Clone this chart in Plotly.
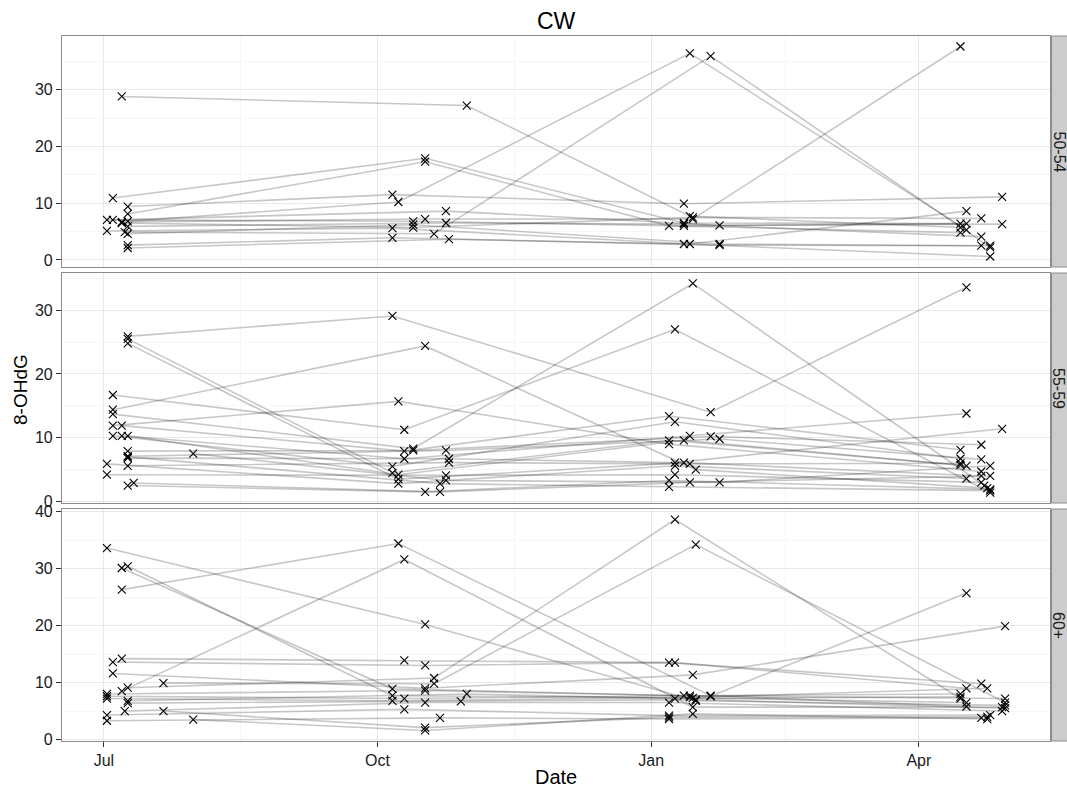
import pandas as pd
import plotly.graph_objects as go
from plotly.subplots import make_subplots

# ---------------- data ----------------
GROUPS = ["50-54", "55-59", "60+"]
VISIT_MONTHS = ["2012-07", "2012-10", "2013-01", "2013-04"]
TICK_DATES = ["2012-07-01", "2012-10-01", "2013-01-01", "2013-04-01"]
TICK_LABELS = ["Jul", "Oct", "Jan", "Apr"]

# 50-54: day of month of each visit and 8-OHdG value, one entry per subject
G1_JUL_DAY = [7, 4, 9, 9, 9, 8, 7, 2, 4, 2, 7, 9, 9, 9, 9]
G1_JUL_VAL = [28.8, 10.9, 9.4, 8.1, 6.8, 4.9, 6.7, 7.05, 7.05, 5.1, 6.5, 4.6, 2.6, 2.1, 5.9]
G1_OCT_DAY = [31, 17, 6, 17, 8, 20, 17, 13, 24, 6, 13, 13, 6, 25, 24]
G1_OCT_VAL = [27.2, 17.9, 11.5, 17.3, 10.2, 4.6, 7.2, 6.8, 8.6, 5.6, 5.7, 6.2, 3.9, 3.65, 6.5]
G1_JAN_DAY = [14, 12, 12, 7, 14, 21, 15, 12, 24, 14, 15, 24, 12, 24, 12]
G1_JAN_VAL = [7.7, 6.5, 9.9, 6.0, 36.4, 35.9, 7.2, 6.0, 6.1, 2.8, 7.5, 2.8, 2.8, 2.6, 6.3]
G1_APR_DAY = [15, 15, 29, 15, 17, 25, 15, 17, 29, 17, 22, 25, 25, 22, 22]
G1_APR_VAL = [5.7, 6.4, 11.1, 4.8, 5.3, 2.2, 37.6, 6.4, 6.3, 8.6, 7.3, 2.5, 0.6, 2.5, 4.1]

# 55-59
G2_JUL_DAY = [9, 9, 9, 4, 4, 4, 4, 7, 4, 7, 9, 9, 9, 9, 9, 2, 2, 9, 11, 31, 9]
G2_JUL_VAL = [25.9, 25.5, 24.8, 14.4, 16.7, 13.7, 11.9, 11.9, 10.3, 10.3, 10.3, 7.9, 7.1, 6.8, 5.6, 5.9, 4.2, 2.5, 2.9, 7.5, 7.0]
G2_OCT_DAY = [6, 6, 8, 17, 10, 13, 8, 10, 6, 10, 8, 13, 24, 25, 25, 8, 24, 17, 22, 24, 22]
G2_OCT_VAL = [29.1, 4.5, 3.5, 24.4, 11.25, 8.3, 15.7, 7.9, 5.5, 6.7, 4.2, 8.0, 8.0, 6.7, 6.1, 2.8, 4.1, 1.5, 1.5, 3.3, 2.8]
G2_JAN_DAY = [21, 7, 12, 16, 9, 15, 7, 7, 9, 14, 12, 21, 24, 9, 14, 9, 9, 7, 14, 24, 7]
G2_JAN_VAL = [14.0, 9.6, 6.1, 5.0, 27.0, 34.2, 9.0, 13.4, 12.5, 10.3, 9.6, 10.2, 9.8, 6.1, 5.9, 5.6, 4.2, 3.3, 3.0, 3.0, 2.3]
G2_APR_DAY = [17, 15, 22, 24, 25, 23, 22, 15, 15, 17, 17, 22, 22, 29, 15, 17, 22, 25, 25, 25, 25]
G2_APR_VAL = [33.6, 5.7, 4.0, 2.1, 1.4, 2.5, 4.7, 8.1, 6.7, 13.8, 5.6, 8.9, 6.6, 11.4, 6.0, 3.6, 3.0, 1.9, 4.0, 5.6, 1.7]

# 60+
G3_JUL_DAY = [2, 7, 9, 7, 7, 7, 4, 4, 9, 21, 2, 2, 2, 9, 9, 8, 2, 2, 21, 31]
G3_JUL_VAL = [33.6, 30.1, 30.4, 26.3, 8.5, 14.2, 13.6, 11.6, 9.1, 9.9, 8.0, 7.6, 7.2, 6.8, 6.4, 5.0, 4.3, 3.3, 5.0, 3.5]
G3_OCT_DAY = [17, 6, 6, 8, 10, 10, 17, 17, 20, 20, 17, 10, 6, 31, 29, 17, 10, 22, 17, 17]
G3_OCT_VAL = [20.2, 8.9, 7.7, 34.4, 31.6, 13.9, 13.0, 9.0, 10.8, 9.8, 8.6, 7.2, 6.8, 8.0, 6.7, 6.5, 5.3, 3.8, 2.1, 1.6]
G3_JAN_DAY = [16, 12, 15, 21, 15, 9, 7, 15, 9, 16, 21, 14, 14, 9, 16, 7, 7, 7, 7, 15]
G3_JAN_VAL = [6.8, 7.7, 7.3, 7.7, 5.7, 13.5, 13.5, 11.35, 38.6, 34.2, 7.6, 7.7, 7.4, 7.2, 7.0, 6.5, 4.2, 3.6, 3.9, 4.5]
G3_APR_DAY = [30, 15, 17, 17, 29, 17, 22, 30, 15, 30, 17, 30, 24, 15, 30, 29, 25, 22, 24, 24]
G3_APR_VAL = [6.0, 8.0, 6.5, 5.8, 5.7, 9.0, 9.8, 19.9, 7.2, 6.5, 25.7, 7.2, 9.0, 7.5, 5.5, 5.0, 4.3, 3.8, 4.0, 3.6]

PANELS = [
    ([G1_JUL_DAY, G1_OCT_DAY, G1_JAN_DAY, G1_APR_DAY], [G1_JUL_VAL, G1_OCT_VAL, G1_JAN_VAL, G1_APR_VAL]),
    ([G2_JUL_DAY, G2_OCT_DAY, G2_JAN_DAY, G2_APR_DAY], [G2_JUL_VAL, G2_OCT_VAL, G2_JAN_VAL, G2_APR_VAL]),
    ([G3_JUL_DAY, G3_OCT_DAY, G3_JAN_DAY, G3_APR_DAY], [G3_JUL_VAL, G3_OCT_VAL, G3_JAN_VAL, G3_APR_VAL]),
]

# ---------------- figure ----------------
W, H = 1067, 791
L, R, T, B = 62, 17, 36, 50
PW, PH = W - L - R, H - T - B
PANEL_PX = [(36, 267), (273, 503), (509, 741)]

FONT = "Liberation Sans, Arial, Helvetica, sans-serif"
TXT = "#1a1a1a"

fig = make_subplots(rows=3, cols=1, shared_xaxes=True)

all_dates = []
for p, (days, vals) in enumerate(PANELS):
    row = p + 1
    n = len(vals[0])
    px_, py_ = [], []
    for s in range(n):
        xs = [pd.Timestamp(f"{VISIT_MONTHS[v]}-{days[v][s]:02d}") for v in range(4)]
        ys = [vals[v][s] for v in range(4)]
        all_dates += xs
        px_ += xs
        py_ += ys
        fig.add_trace(go.Scatter(x=xs, y=ys, mode="lines",
                                 line=dict(color="rgba(0,0,0,0.22)", width=1.6),
                                 hoverinfo="skip", showlegend=False), row=row, col=1)
    fig.add_trace(go.Scatter(x=px_, y=py_, mode="markers",
                             marker=dict(symbol="x-thin", size=8, color="black",
                                         line=dict(width=1.1, color="black")),
                             showlegend=False), row=row, col=1)

    ally = [v for lst in vals for v in lst]
    lo, hi = min(ally), max(ally)
    pad = 0.05 * (hi - lo)
    top, bot = PANEL_PX[p]
    dom = [(H - B - bot) / PH, (H - B - top) / PH]
    yname = "yaxis" if row == 1 else f"yaxis{row}"
    fig.layout[yname].update(
        domain=dom, range=[lo - pad, hi + pad],
        tickmode="linear", tick0=0, dtick=10,
        ticks="outside", ticklen=5, tickcolor="#333", tickwidth=1,
        tickfont=dict(family=FONT, size=16, color=TXT),
        showgrid=True, gridcolor="#e8e8e8", gridwidth=1, zeroline=False,
        minor=dict(tick0=0, dtick=5, showgrid=True, gridcolor="#f6f6f6", ticks=""),
        showline=True, mirror=True, linecolor="#8c8c8c", linewidth=1.2,
    )

dmin, dmax = min(all_dates), max(all_dates)
span = dmax - dmin
xr = [dmin - 0.05 * span, dmax + 0.05 * span]
ticks = [pd.Timestamp(t) for t in TICK_DATES]
minor_ticks = [ticks[i] + (ticks[i + 1] - ticks[i]) / 2 for i in range(len(ticks) - 1)]

for row in (1, 2, 3):
    xname = "xaxis" if row == 1 else f"xaxis{row}"
    fig.layout[xname].update(
        type="date", range=xr, tickmode="array", tickvals=ticks, ticktext=TICK_LABELS,
        showticklabels=(row == 3), ticks="outside" if row == 3 else "",
        ticklen=5, tickcolor="#333", tickwidth=1,
        tickfont=dict(family=FONT, size=16, color=TXT),
        showgrid=True, gridcolor="#e8e8e8", gridwidth=1, zeroline=False,
        minor=dict(tickmode="array", tickvals=minor_ticks, showgrid=True,
                   gridcolor="#f6f6f6", ticks=""),
        showline=True, mirror=True, linecolor="#8c8c8c", linewidth=1.2,
    )

shapes, annos = [], []
for p, g in enumerate(GROUPS):
    top, bot = PANEL_PX[p]
    y0, y1 = (H - B - bot) / PH, (H - B - top) / PH
    shapes.append(dict(type="rect", xref="paper", yref="paper",
                       x0=1 + 1.5 / PW, x1=1 + 22 / PW, y0=y0, y1=y1,
                       fillcolor="#cccccc", line=dict(color="#8c8c8c", width=1), layer="below"))
    annos.append(dict(text=g, xref="paper", yref="paper", x=1 + (1059 - L - PW) / PW, y=(y0 + y1) / 2,
                      showarrow=False, textangle=90, xanchor="center", yanchor="middle",
                      font=dict(family=FONT, size=16, color=TXT)))

annos.append(dict(text="CW", xref="paper", yref="paper", x=0.5, y=(H - B - 21) / PH,
                  showarrow=False, xanchor="center", yanchor="middle",
                  font=dict(family=FONT, size=23, color="black")))
annos.append(dict(text="Date", xref="paper", yref="paper", x=0.5, y=(H - B - 777) / PH,
                  showarrow=False, xanchor="center", yanchor="middle",
                  font=dict(family=FONT, size=20, color="black")))
annos.append(dict(text="8-OHdG", xref="paper", yref="paper", x=(20 - L) / PW, y=(H - B - 390) / PH,
                  showarrow=False, textangle=-90, xanchor="center", yanchor="middle",
                  font=dict(family=FONT, size=19, color="black")))

fig.update_layout(width=W, height=H, margin=dict(l=L, r=R, t=T, b=B),
                  paper_bgcolor="white", plot_bgcolor="white", hovermode=False,
                  shapes=shapes, annotations=annos, showlegend=False)

fig.write_html("out.html", config={"displayModeBar": False},
               post_script="document.body.style.margin='0';document.body.style.overflow='hidden';")
